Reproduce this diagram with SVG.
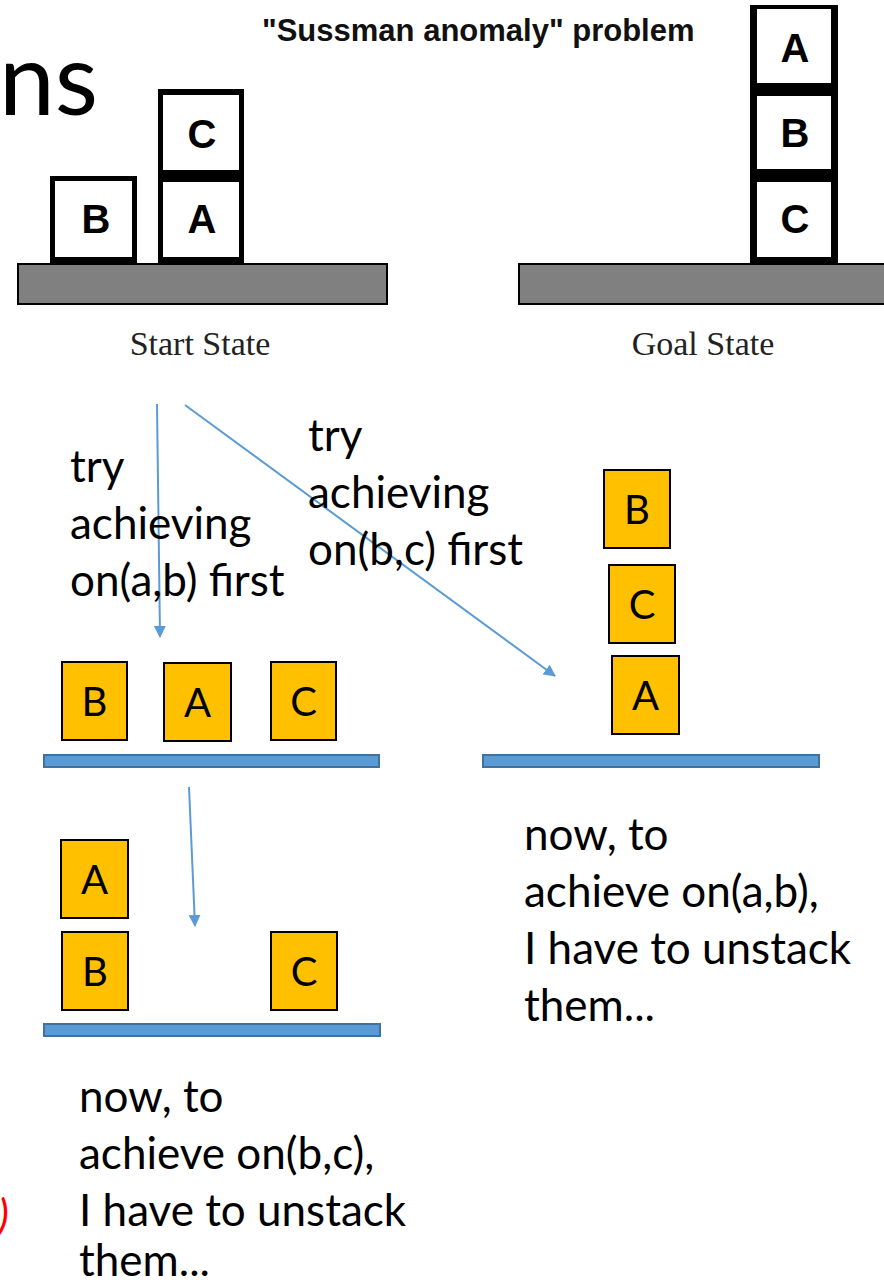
<svg xmlns="http://www.w3.org/2000/svg" width="884" height="1285" viewBox="0 0 884 1285">
<defs>
<marker id="ah" viewBox="0 0 12 12" refX="11" refY="6" markerWidth="12" markerHeight="12" markerUnits="userSpaceOnUse" orient="auto">
<path d="M0,0 L12,6 L0,12 z" fill="#5B9BD5"/>
</marker>
<style>
.bw{fill:#000}
.wi{fill:#fff}
.tbl{fill:#808080;stroke:#000;stroke-width:2}
.bl{font-family:"Liberation Sans",Arial,sans-serif;font-weight:bold;font-size:40px;text-anchor:middle;fill:#000}
.cap{font-family:"Liberation Serif","Times New Roman",serif;font-size:34px;text-anchor:middle;fill:#222}
.ob{fill:#FFC000;stroke:#000;stroke-width:2}
.ol{font-family:Lato,"Open Sans",sans-serif;font-size:40px;text-anchor:middle;fill:#000}
.bt{fill:#5B9BD5;stroke:#41719C;stroke-width:2}
.lbl{font-family:Lato,"Open Sans",sans-serif;font-size:44px;fill:#000}
.con{stroke:#5B9BD5;stroke-width:2;fill:none;marker-end:url(#ah)}
</style>
</defs>
<rect width="884" height="1285" fill="#fff"/>
<text x="98" y="115" font-family="Lato,'Open Sans',sans-serif" font-size="100" text-anchor="end" fill="#000">ns</text>
<text x="262" y="41" font-family="'Liberation Sans',Arial,sans-serif" font-weight="bold" font-size="31" fill="#111">"Sussman anomaly" problem</text>

<g id="start-state">
<rect class="tbl" x="18" y="264" width="369" height="40"/>
<rect class="bw" x="50" y="176" width="87" height="88"/>
<rect class="wi" x="55" y="181" width="77" height="76"/>
<rect class="bw" x="158" y="89" width="86" height="175"/>
<rect class="wi" x="163" y="95" width="76" height="75"/>
<rect class="wi" x="163" y="182" width="76" height="75"/>
<text class="bl" x="96" y="233">B</text>
<text class="bl" x="202" y="148">C</text>
<text class="bl" x="202" y="233">A</text>
<text class="cap" x="200" y="355">Start State</text>
</g>

<g id="goal-state">
<rect class="tbl" x="519" y="264" width="370" height="40"/>
<rect class="bw" x="750" y="5" width="88" height="259"/>
<rect class="wi" x="757" y="9" width="74" height="74"/>
<rect class="wi" x="757" y="96" width="74" height="73"/>
<rect class="wi" x="757" y="182" width="74" height="75"/>
<text class="bl" x="795" y="62">A</text>
<text class="bl" x="795" y="147">B</text>
<text class="bl" x="795" y="233">C</text>
<text class="cap" x="703" y="355">Goal State</text>
</g>

<g id="state-bac">
<rect class="bt" x="44" y="755" width="335" height="12"/>
<rect class="ob" x="62" y="662" width="65" height="78"/>
<rect class="ob" x="164" y="663" width="67" height="78"/>
<rect class="ob" x="271" y="662" width="65" height="78"/>
<text class="ol" x="94.5" y="716">B</text>
<text class="ol" x="197.5" y="717">A</text>
<text class="ol" x="303.5" y="716">C</text>
</g>

<g id="state-bca">
<rect class="bt" x="483" y="755" width="336" height="12"/>
<rect class="ob" x="604" y="470" width="66" height="78"/>
<rect class="ob" x="609" y="565" width="66" height="78"/>
<rect class="ob" x="612" y="656" width="67" height="78"/>
<text class="ol" x="637" y="524">B</text>
<text class="ol" x="642" y="619">C</text>
<text class="ol" x="645.5" y="710">A</text>
</g>

<g id="state-ab-c">
<rect class="bt" x="44" y="1024" width="336" height="12"/>
<rect class="ob" x="61" y="840" width="67" height="78"/>
<rect class="ob" x="62" y="932" width="66" height="78"/>
<rect class="ob" x="271" y="932" width="66" height="78"/>
<text class="ol" x="94.5" y="894">A</text>
<text class="ol" x="95" y="986">B</text>
<text class="ol" x="304" y="986">C</text>
</g>

<g id="connectors">
<line class="con" x1="157" y1="404" x2="160" y2="637"/>
<line class="con" x1="185" y1="405" x2="555" y2="676"/>
<line class="con" x1="189" y1="787" x2="195" y2="926"/>
</g>

<g id="labels">
<text class="lbl" x="70" y="482">try</text>
<text class="lbl" x="70" y="539">achieving</text>
<text class="lbl" x="70" y="596">on(a,b) first</text>
<text class="lbl" x="308" y="451">try</text>
<text class="lbl" x="308" y="508">achieving</text>
<text class="lbl" x="308" y="565">on(b,c) first</text>
<text class="lbl" x="524" y="850">now, to</text>
<text class="lbl" x="524" y="907">achieve on(a,b),</text>
<text class="lbl" x="524" y="964">I have to unstack</text>
<text class="lbl" x="524" y="1021">them...</text>
<text class="lbl" x="79" y="1112">now, to</text>
<text class="lbl" x="79" y="1169">achieve on(b,c),</text>
<text class="lbl" x="79" y="1226">I have to unstack</text>
<text class="lbl" x="79" y="1276">them...</text>
<text x="-2" y="1230" font-family="Lato,'Open Sans',sans-serif" font-style="italic" font-size="42" fill="#FF0000">)</text>
</g>
</svg>
